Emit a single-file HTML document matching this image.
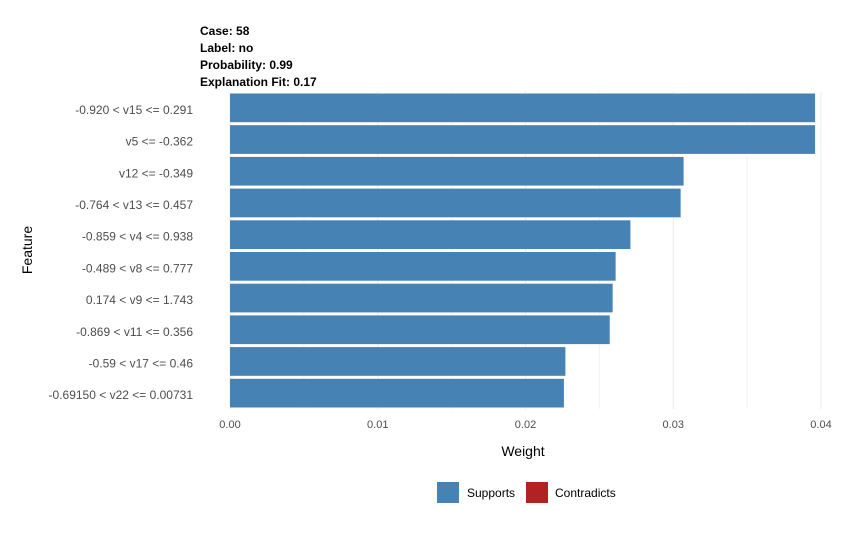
<!DOCTYPE html>
<html><head><meta charset="utf-8"><style>
body{margin:0;background:#fff;font-family:"Liberation Sans",Arial,sans-serif;}
svg text{font-family:"Liberation Sans",Arial,sans-serif;}
</style></head><body>
<svg id="c" width="866" height="531" xmlns="http://www.w3.org/2000/svg">
<g font-size="12" font-weight="bold" fill="#000">
<text x="200" y="35">Case: 58</text>
<text x="200" y="52">Label: no</text>
<text x="200" y="69">Probability: 0.99</text>
<text x="200" y="86">Explanation Fit: 0.17</text>
</g>
<g id="grid"></g><g id="bars"></g><g id="ylab"></g><g id="xlab"></g>
<text x="523" y="456" text-anchor="middle" font-size="14" fill="#000">Weight</text>
<text transform="translate(32,250) rotate(-90)" text-anchor="middle" font-size="14" fill="#000">Feature</text>
<g>
<rect x="437" y="482" width="22" height="21" fill="#4682b4"/>
<text x="467" y="497" font-size="12" fill="#000">Supports</text>
<rect x="526" y="482" width="22" height="21" fill="#b22222"/>
<text x="555" y="497" font-size="12" fill="#000">Contradicts</text>
</g>
</svg>
<script>
const features=["-0.920 < v15 <= 0.291","v5 <= -0.362","v12 <= -0.349","-0.764 < v13 <= 0.457","-0.859 < v4 <= 0.938","-0.489 < v8 <= 0.777","0.174 < v9 <= 1.743","-0.869 < v11 <= 0.356","-0.59 < v17 <= 0.46","-0.69150 < v22 <= 0.00731"];
const weights=[0.0396,0.0396,0.0307,0.0305,0.0271,0.0261,0.0259,0.0257,0.0227,0.0226];
const xTicks=[0,0.01,0.02,0.03,0.04];
const xTickLabels=["0.00","0.01","0.02","0.03","0.04"];
const NS="http://www.w3.org/2000/svg";
const x=v=>230+v*14775;
const top0=92,bottom=409,step=(bottom-top0)/features.length;
const y=i=>top0+i*step;
function mk(t,a,p){const e=document.createElementNS(NS,t);for(const k in a)e.setAttribute(k,a[k]);p.appendChild(e);return e;}
const grid=document.getElementById('grid');
for(let v=0;v<=0.0401;v+=0.005){
 const g=mk('line',{x1:x(v),x2:x(v),y1:top0,y2:bottom,stroke:Math.round(v*1000)%10===0?'#ebebeb':'#f3f3f3','stroke-width':1},grid);
 
 
}
const bars=document.getElementById('bars'),yl=document.getElementById('ylab'),xl=document.getElementById('xlab');
features.forEach((f,i)=>{
 const r=mk('rect',{x:x(0),y:y(i)+1.5,width:x(weights[i])-x(0),height:step-3,fill:'#4682b4'},bars);
 
 
 const t=mk('text',{x:193,y:y(i)+step/2+6,'text-anchor':'end','font-size':12,fill:'#4d4d4d'},yl);
 t.textContent=f;
 
 
});
xTicks.forEach((v,i)=>{
 const t=mk('text',{x:x(v),y:428,'text-anchor':'middle','font-size':11,fill:'#4d4d4d'},xl);
 t.textContent=xTickLabels[i];
 
 
});
</script>
</body></html>
